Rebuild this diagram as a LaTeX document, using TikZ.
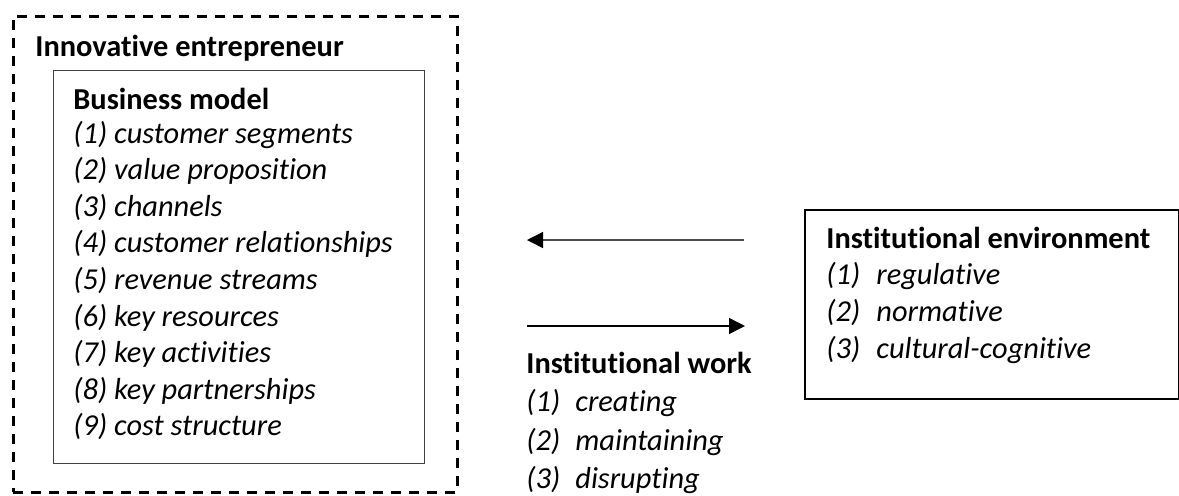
\documentclass[tikz,border=0pt]{standalone}
\usepackage{fontspec}
\setmainfont{Carlito}[Ligatures=NoCommon]
\usetikzlibrary{arrows.meta}
\begin{document}
\begin{tikzpicture}[x=0.5pt,y=-0.5pt,
  txt/.style={anchor=base west,inner sep=0pt,text=black,font=\fontsize{15.2}{18}\selectfont},
  hd/.style={txt,font=\fontsize{15.2}{18}\selectfont\bfseries},
  itm/.style={txt,font=\fontsize{15.2}{18}\selectfont\itshape},
  box/.style={anchor=north west,inner sep=0pt,draw},
  outerbox/.style={box,dashed,line width=1.25pt,dash pattern=on 5pt off 4pt,draw=black},
  innerbox/.style={box,line width=0.7pt,draw=black!75},
  envbox/.style={box,line width=1pt,draw=black},
  arr/.style={line width=0.7pt,-{Triangle[length=8pt,width=8pt,color=black]}}
]
\useasboundingbox (0,0) rectangle (1179,495);

% boxes
\node[outerbox,minimum width=222pt,minimum height=238pt] (outer) at (12,15) {};
\node[innerbox,minimum width=185.5pt,minimum height=196.5pt] (inner) at (53,70) {};
\node[envbox,minimum width=187pt,minimum height=94.5pt] (env) at (804,209) {};

% left texts
\node[hd] (ie) at (35,56) {Innovative entrepreneur};
\node[hd] (bm) at (73,109) {Business model};
\node[itm] (b1) at (73,143) {(1) customer segments};
\node[itm] (b2) at (73,179.6) {(2) value proposition};
\node[itm] (b3) at (73,216.2) {(3) channels};
\node[itm] (b4) at (73,252.8) {(4) customer relationships};
\node[itm] (b5) at (73,289.4) {(5) revenue streams};
\node[itm] (b6) at (73,326) {(6) key resources};
\node[itm] (b7) at (73,362.6) {(7) key activities};
\node[itm] (b8) at (73,399.2) {(8) key partnerships};
\node[itm] (b9) at (73,435.8) {(9) cost structure};

% right box texts
\node[hd] (envh) at (826,248) {Institutional environment};
\node[itm] (e1) at (826,284) {\makebox[25pt][l]{(1)}regulative};
\node[itm] (e2) at (826,321) {\makebox[25pt][l]{(2)}normative};
\node[itm] (e3) at (826,358) {\makebox[25pt][l]{(3)}cultural-cognitive};

% institutional work texts
\node[hd] (iwh) at (526,373) {Institutional work};
\node[itm] (w1) at (526,411) {\makebox[24.5pt][l]{(1)}creating};
\node[itm] (w2) at (526,450) {\makebox[24.5pt][l]{(2)}maintaining};
\node[itm] (w3) at (526,488) {\makebox[24.5pt][l]{(3)}disrupting};

% arrows
\coordinate (l1) at (744,240);
\coordinate (l2) at (527,240);
\coordinate (r1) at (527,326);
\coordinate (r2) at (745,326);
\draw[arr,draw=black!70] (l1) -- (l2);
\draw[arr,draw=black] (r1) -- (r2);
\end{tikzpicture}
\end{document}
